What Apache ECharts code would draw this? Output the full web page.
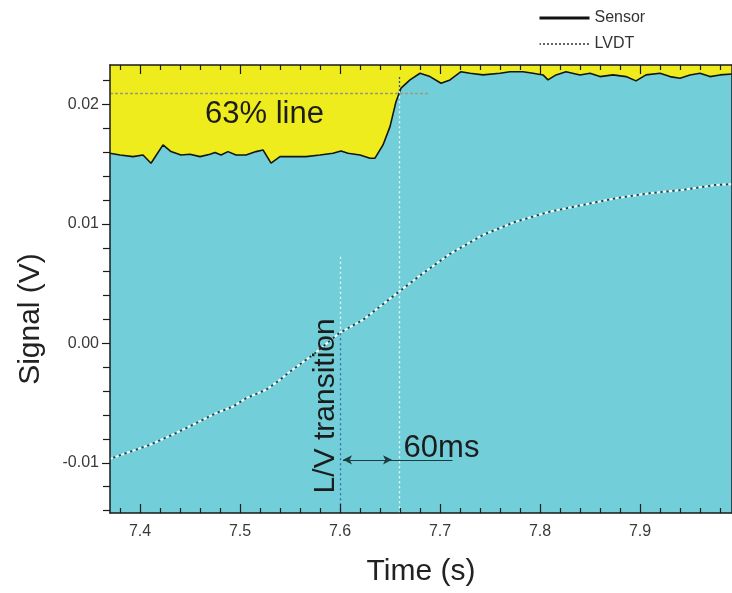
<!DOCTYPE html>
<html>
<head>
<meta charset="utf-8">
<script src="https://cdn.jsdelivr.net/npm/echarts@6/dist/echarts.min.js"></script>
<style>
  html, body { margin: 0; padding: 0; background: #ffffff; }
  #chart { width: 732px; height: 593px; }
</style>
</head>
<body>
<div id="chart"></div>
<script>
// Sensor signal (V) against time (s)
const sensorTime = [7.370, 7.380, 7.393, 7.403, 7.411, 7.423, 7.431, 7.441, 7.450, 7.460,
  7.470, 7.475, 7.481, 7.488, 7.496, 7.506, 7.516, 7.523, 7.531, 7.540,
  7.553, 7.566, 7.580, 7.593, 7.601, 7.608, 7.620, 7.630, 7.635, 7.643,
  7.650, 7.656, 7.661, 7.670, 7.680, 7.690, 7.701, 7.710, 7.721, 7.730,
  7.743, 7.760, 7.770, 7.783, 7.793, 7.803, 7.808, 7.816, 7.826, 7.840,
  7.850, 7.860, 7.873, 7.886, 7.896, 7.906, 7.920, 7.930, 7.940, 7.950,
  7.960, 7.970, 7.980, 7.992];
const sensorSignal = [0.01592, 0.01577, 0.01563, 0.01577, 0.01508, 0.01661, 0.01605, 0.01577, 0.01583, 0.01563,
  0.01583, 0.01597, 0.01577, 0.01605, 0.01577, 0.01577, 0.01605, 0.01619, 0.01508, 0.01563,
  0.01563, 0.01563, 0.01577, 0.01591, 0.01611, 0.01591, 0.01577, 0.01550, 0.01550, 0.01661,
  0.01814, 0.02023, 0.02136, 0.02205, 0.02261, 0.02233, 0.02177, 0.02205, 0.02274, 0.02261,
  0.02247, 0.02261, 0.02274, 0.02274, 0.02261, 0.02247, 0.02205, 0.02247, 0.02274, 0.02247,
  0.02261, 0.02233, 0.02247, 0.02233, 0.02197, 0.02247, 0.02261, 0.02233, 0.02219, 0.02247,
  0.02261, 0.02233, 0.02247, 0.02255];

// LVDT signal (V) against time (s)
const lvdtTime = [7.370, 7.386, 7.410, 7.436, 7.456, 7.476, 7.493, 7.506, 7.526, 7.540,
  7.550, 7.573, 7.599, 7.623, 7.657, 7.683, 7.710, 7.743, 7.776, 7.810,
  7.843, 7.876, 7.910, 7.943, 7.976, 7.992];
const lvdtSignal = [-0.00967, -0.00919, -0.00849, -0.00751, -0.00668, -0.00584, -0.00529, -0.00459, -0.00389, -0.00305,
  -0.00236, -0.00096, 0.00085, 0.00197, 0.00420, 0.00587, 0.00749, 0.00908, 0.01019, 0.01103,
  0.01159, 0.01215, 0.01257, 0.01285, 0.01326, 0.01333];

// Axis ticks
const timeMajorTicks = [7.4, 7.5, 7.6, 7.7, 7.8, 7.9];
const timeMinorTicks = [7.38, 7.42, 7.44, 7.46, 7.48, 7.52, 7.54, 7.56, 7.58, 7.62, 7.64, 7.66, 7.68,
  7.72, 7.74, 7.76, 7.78, 7.82, 7.84, 7.86, 7.88, 7.92, 7.94, 7.96, 7.98];
const signalMajorTicks = [-0.01, 0.00, 0.01, 0.02];
const signalMinorTicks = [-0.014, -0.012, -0.008, -0.006, -0.004, -0.002, 0.002, 0.004, 0.006, 0.008,
  0.012, 0.014, 0.016, 0.018, 0.022];

// Annotation values
const transitionTime = 7.60;     // L/V transition
const crossingTime = 7.659;      // sensor reaches the 63% level
const level63 = 0.02094;         // 63% level of the sensor step
const lineTopTransition = 0.00724;
const lvdtAtTransition = 0.00085;
const sensorAtCrossing = 0.0211;
const lineTopCrossing = 0.0223;
const arrowSignal = -0.00975;
const arrowEndTime = 7.7125;
const label63 = [7.5245, 0.01912];
const label60ms = [7.7015, -0.00883];
const labelTransition = [7.5855, -0.00523];

const FONT = '"Liberation Sans", Arial, Helvetica, sans-serif';
const YELLOW = '#eeec1c';
const CYAN = '#72cfd9';
const X_MIN = 7.37, X_MAX = 7.992, Y_MIN = -0.0142, Y_MAX = 0.0233;

const zip = (a, b) => a.map((v, i) => [v, b[i]]);

function timeAxis(position, ticks, len, showLabels, showLine) {
  return {
    type: 'value', position: position, min: X_MIN, max: X_MAX, offset: 0, z: 10,
    axisLine: { show: showLine, onZero: false, lineStyle: { color: '#1a1a1a', width: 1.5 } },
    axisTick: { show: true, inside: true, length: len, customValues: ticks,
      lineStyle: { color: '#1a1a1a', width: 1.2 } },
    axisLabel: showLabels ? { show: true, customValues: ticks, margin: 11, fontSize: 16,
      color: '#3a3a3a', fontFamily: FONT, formatter: v => v.toFixed(1) } : { show: false },
    splitLine: { show: false }
  };
}
function signalAxis(position, ticks, len, showLabels, showLine) {
  return {
    type: 'value', position: position, min: Y_MIN, max: Y_MAX, offset: 0, z: 10,
    axisLine: { show: showLine, onZero: false, lineStyle: { color: '#1a1a1a', width: 1.5 } },
    axisTick: { show: true, inside: false, length: len, customValues: ticks,
      lineStyle: { color: '#1a1a1a', width: 1.2 } },
    axisLabel: showLabels ? { show: true, customValues: ticks, margin: 11, fontSize: 16,
      color: '#3a3a3a', fontFamily: FONT, formatter: v => v.toFixed(2) } : { show: false },
    splitLine: { show: false }
  };
}

const xBottom = timeAxis('bottom', timeMajorTicks, 9, true, true);
xBottom.name = 'Time (s)';
xBottom.nameLocation = 'middle';
xBottom.nameGap = 44;
xBottom.nameTextStyle = { fontSize: 30, color: '#222', fontFamily: FONT };

const chart = echarts.init(document.getElementById('chart'), null, { renderer: 'canvas' });

function vLine(t, v1, v2, color, type) {
  return [{ coord: [t, v1], lineStyle: { color: color, type: type, width: 1.3 } }, { coord: [t, v2] }];
}

const hiddenSymbol = { color: 'rgba(0,0,0,0)', borderWidth: 0, opacity: 0 };

chart.setOption({
  animation: false,
  backgroundColor: '#ffffff',
  grid: { left: 110, top: 65, width: 622, height: 448, show: true, backgroundColor: YELLOW, borderWidth: 0 },
  legend: {
    orient: 'vertical', left: 533, top: 5, itemWidth: 50, itemHeight: 14, itemGap: 10,
    textStyle: { fontSize: 16, color: '#333', fontFamily: FONT },
    data: [
      { name: 'Sensor', itemStyle: hiddenSymbol, lineStyle: { color: '#111', width: 3, type: 'solid' } },
      { name: 'LVDT', itemStyle: hiddenSymbol, lineStyle: { color: '#333', width: 1.5, type: [2, 2] } }
    ]
  },
  xAxis: [
    xBottom,
    timeAxis('bottom', timeMinorTicks, 5, false, false),
    timeAxis('top', timeMajorTicks, 9, false, true),
    timeAxis('top', timeMinorTicks, 5, false, false)
  ],
  yAxis: [
    signalAxis('left', signalMajorTicks, 8, true, true),
    signalAxis('left', signalMinorTicks, 7, false, false),
    signalAxis('right', signalMajorTicks, 8, false, true),
    signalAxis('right', signalMinorTicks, 7, false, false)
  ],
  series: [
    {
      name: 'Sensor', type: 'line', xAxisIndex: 0, yAxisIndex: 0,
      data: zip(sensorTime, sensorSignal), symbol: 'none', showSymbol: false, smooth: false,
      lineStyle: { color: '#151515', width: 1.6 },
      itemStyle: { color: '#151515' },
      areaStyle: { color: CYAN, opacity: 1, origin: 'start' },
      z: 2
    },
    {
      name: 'LVDT-bright', type: 'line', xAxisIndex: 0, yAxisIndex: 0,
      data: zip(lvdtTime, lvdtSignal), symbol: 'none', showSymbol: false,
      lineStyle: { color: '#ffffff', width: 2, type: [3, 3], dashOffset: 0 },
      silent: true, z: 3
    },
    {
      name: 'LVDT', type: 'line', xAxisIndex: 0, yAxisIndex: 0,
      data: zip(lvdtTime, lvdtSignal), symbol: 'none', showSymbol: false,
      lineStyle: { color: '#2b3b3e', width: 1.8, type: [2, 4], dashOffset: -3.5 },
      itemStyle: { color: '#2b3b3e' },
      z: 4,
      markLine: {
        silent: true, symbol: 'none', label: { show: false },
        data: [
          // 63% level
          [{ coord: [X_MIN, level63], lineStyle: { color: '#9a9a78', type: [3, 2], width: 1.4 } },
           { coord: [7.688, level63] }],
          // L/V transition marker
          vLine(transitionTime, lineTopTransition, lvdtAtTransition, '#eef8fa', [2, 3]),
          vLine(transitionTime, lvdtAtTransition, Y_MIN, '#3766ad', [2, 3]),
          // 63% crossing marker
          vLine(crossingTime, lineTopCrossing, sensorAtCrossing, '#2c4f8c', [2, 2]),
          vLine(crossingTime, sensorAtCrossing, Y_MIN, '#f2fbfc', [2, 3]),
          // 60 ms span
          [{ coord: [transitionTime + 0.005, arrowSignal], lineStyle: { color: '#1e3c3c', type: 'solid', width: 1.2 } },
           { coord: [arrowEndTime, arrowSignal] }]
        ]
      }
    },
    {
      name: 'span', type: 'line', xAxisIndex: 0, yAxisIndex: 0, data: [], z: 5,
      markLine: {
        silent: true, symbol: ['arrow', 'arrow'], symbolSize: [7, 9], label: { show: false },
        lineStyle: { color: '#1e3c3c', type: 'solid', width: 1.2 },
        data: [[{ coord: [transitionTime + 0.003, arrowSignal] }, { coord: [crossingTime - 0.007, arrowSignal] }]]
      }
    }
  ]
});

// Annotation texts, placed at data coordinates
const p63 = chart.convertToPixel({ xAxisIndex: 0, yAxisIndex: 0 }, label63);
const p60 = chart.convertToPixel({ xAxisIndex: 0, yAxisIndex: 0 }, label60ms);
const pTr = chart.convertToPixel({ xAxisIndex: 0, yAxisIndex: 0 }, labelTransition);
const textStyle = (txt, size) => ({ text: txt, fontSize: size, fontFamily: FONT, fill: '#1c1c1c',
  textAlign: 'center', textVerticalAlign: 'middle' });

chart.setOption({
  graphic: [
    { type: 'text', x: p63[0], y: p63[1], z: 20, style: textStyle('63% line', 31) },
    { type: 'text', x: p60[0], y: p60[1], z: 20, style: textStyle('60ms', 31) },
    { type: 'text', x: pTr[0], y: pTr[1], rotation: Math.PI / 2, z: 20, style: textStyle('L/V transition', 30) },
    { type: 'text', x: 31, y: 319, rotation: Math.PI / 2, z: 20,
      style: { text: 'Signal (V)', fontSize: 30, fontFamily: FONT, fill: '#222', textAlign: 'center', textVerticalAlign: 'middle' } }
  ]
});
</script>
</body>
</html>
